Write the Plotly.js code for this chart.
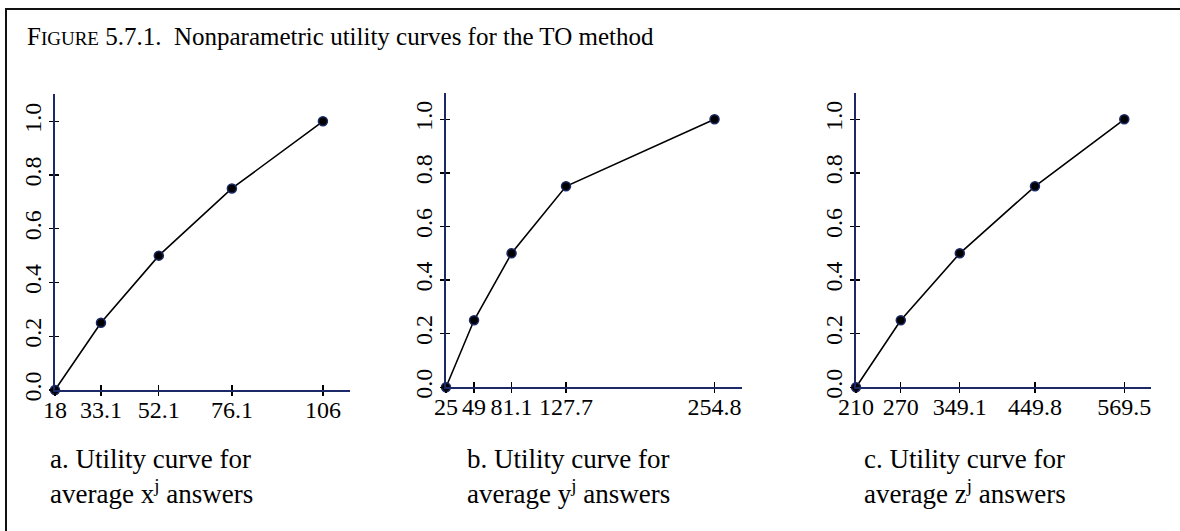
<!DOCTYPE html>
<html>
<head>
<meta charset="utf-8">
<script src="https://cdn.plot.ly/plotly-3.0.1.min.js"></script>
<style>html,body{margin:0;padding:0;background:#fff;}#chart{width:1180px;height:531px;}</style>
</head>
<body>
<div id="chart"></div>
<script>
// Data
const utilityLevels = [0, 0.25, 0.5, 0.75, 1.0];
const xAnswers = [18, 33.1, 52.1, 76.1, 106];
const yAnswers = [25, 49, 81.1, 127.7, 254.8];
const zAnswers = [210, 270, 349.1, 449.8, 569.5];
const xTickLabels = ["18", "33.1", "52.1", "76.1", "106"];
const yTickLabels = ["25", "49", "81.1", "127.7", "254.8"];
const zTickLabels = ["210", "270", "349.1", "449.8", "569.5"];
const utilityTicks = [0, 0.2, 0.4, 0.6, 0.8, 1.0];
const utilityTickLabels = ["0.0", "0.2", "0.4", "0.6", "0.8", "1.0"];
const captions = [
  "a. Utility curve for<br>average x<sup>j</sup> answers",
  "b. Utility curve for<br>average y<sup>j</sup> answers",
  "c. Utility curve for<br>average z<sup>j</sup> answers"
];
const titleText = "F<span style=\"font-size:19px\">IGURE</span> 5.7.1.&nbsp; Nonparametric utility curves for the TO method";

const W = 1180, H = 531;
const FONT = "Liberation Serif, Times New Roman, serif";
const AXIS_COLOR = "#1b2a66";

function trace(xs, xa, ya) {
  return {
    x: xs, y: utilityLevels, xaxis: xa, yaxis: ya,
    type: "scatter", mode: "lines+markers", cliponaxis: false,
    line: {color: "#000", width: 1.6},
    marker: {size: 9, color: "#000", line: {color: AXIS_COLOR, width: 1.5}},
    hoverinfo: "skip", showlegend: false
  };
}
function emptyTrace(xa, ya) {
  return {x: [], y: [], xaxis: xa, yaxis: ya, type: "scatter", mode: "markers",
          hoverinfo: "skip", showlegend: false};
}

function xaxis(domainPx, range, vals, labels, anchor) {
  return {
    anchor: anchor,
    domain: [domainPx[0] / W, domainPx[1] / W], range: range,
    showline: true, linecolor: AXIS_COLOR, linewidth: 2,
    showgrid: false, zeroline: false,
    ticks: "outside", ticklen: 4, tickwidth: 1.3, tickcolor: "#000",
    tickmode: "array", tickvals: vals, ticktext: labels,
    tickfont: {family: FONT, size: 24, color: "#000"},
    ticklabelstandoff: -7
  };
}
function yaxis(anchor, yZeroPx, yTopPx) {
  return {
    anchor: anchor,
    domain: [1 - yZeroPx / H, 1 - yTopPx / H], range: [0, 1.1],
    showline: true, linecolor: AXIS_COLOR, linewidth: 2,
    showgrid: false, zeroline: false,
    ticks: "outside", ticklen: 4, tickwidth: 1.3, tickcolor: "#000",
    tickmode: "array", tickvals: utilityTicks, ticktext: utilityTickLabels,
    tickangle: -90,
    tickfont: {family: FONT, size: 24, color: "#000"},
    ticklabelstandoff: -2
  };
}
function overlayX(base, over, anchor) {
  return {
    overlaying: over, anchor: anchor, domain: base.domain, range: base.range,
    showline: false, showgrid: false, zeroline: false, showticklabels: false,
    ticks: "inside", ticklen: 5, tickwidth: 1.3, tickcolor: "#000",
    tickmode: "array", tickvals: base.tickvals
  };
}
function overlayY(base, over, anchor) {
  return {
    overlaying: over, anchor: anchor, domain: base.domain, range: base.range,
    showline: false, showgrid: false, zeroline: false, showticklabels: false,
    ticks: "inside", ticklen: 4, tickwidth: 1.3, tickcolor: "#000",
    tickmode: "array", tickvals: base.tickvals
  };
}

const xa = xaxis([55, 350], [18, 114.9], xAnswers, xTickLabels, "y");
const ya = yaxis("x", 390, 94.4);
const xb = xaxis([446, 742], [25, 278.3], yAnswers, yTickLabels, "y2");
const yb = yaxis("x2", 387.3, 92.5);
const xc = xaxis([856, 1151], [210, 605.3], zAnswers, zTickLabels, "y3");
const yc = yaxis("x3", 387.3, 92.5);

const data = [
  trace(xAnswers, "x", "y"), trace(yAnswers, "x2", "y2"), trace(zAnswers, "x3", "y3"),
  emptyTrace("x4", "y4"), emptyTrace("x5", "y5"), emptyTrace("x6", "y6")
];

const capX = [48, 465, 862];
const annotations = captions.map((t, i) => ({
  text: t, xref: "paper", yref: "paper",
  x: capX[i] / W, y: 1 - 476 / H, xanchor: "left", yanchor: "middle",
  align: "left", showarrow: false,
  font: {family: FONT, size: 27, color: "#000"}
}));

const layout = {
  width: W, height: H,
  margin: {l: 0, r: 0, t: 0, b: 0},
  paper_bgcolor: "#fff", plot_bgcolor: "rgba(0,0,0,0)",
  title: {
    text: titleText, x: 27 / W, xanchor: "left", xref: "paper",
    y: 1 - 36 / H, yanchor: "middle", yref: "paper",
    font: {family: FONT, size: 25, color: "#000"}
  },
  xaxis: xa, yaxis: ya, xaxis2: xb, yaxis2: yb, xaxis3: xc, yaxis3: yc,
  xaxis4: overlayX(xa, "x", "y4"), yaxis4: overlayY(ya, "y", "x4"),
  xaxis5: overlayX(xb, "x2", "y5"), yaxis5: overlayY(yb, "y2", "x5"),
  xaxis6: overlayX(xc, "x3", "y6"), yaxis6: overlayY(yc, "y3", "x6"),
  annotations: annotations,
  shapes: [{
    type: "rect", xref: "paper", yref: "paper",
    x0: 6 / W, x1: 1.02, y0: -0.02, y1: 1 - 9 / H,
    line: {color: "#111", width: 2}, fillcolor: "rgba(0,0,0,0)", layer: "below"
  }],
  showlegend: false
};

Plotly.newPlot("chart", data, layout, {staticPlot: true, displayModeBar: false});
</script>
</body>
</html>
